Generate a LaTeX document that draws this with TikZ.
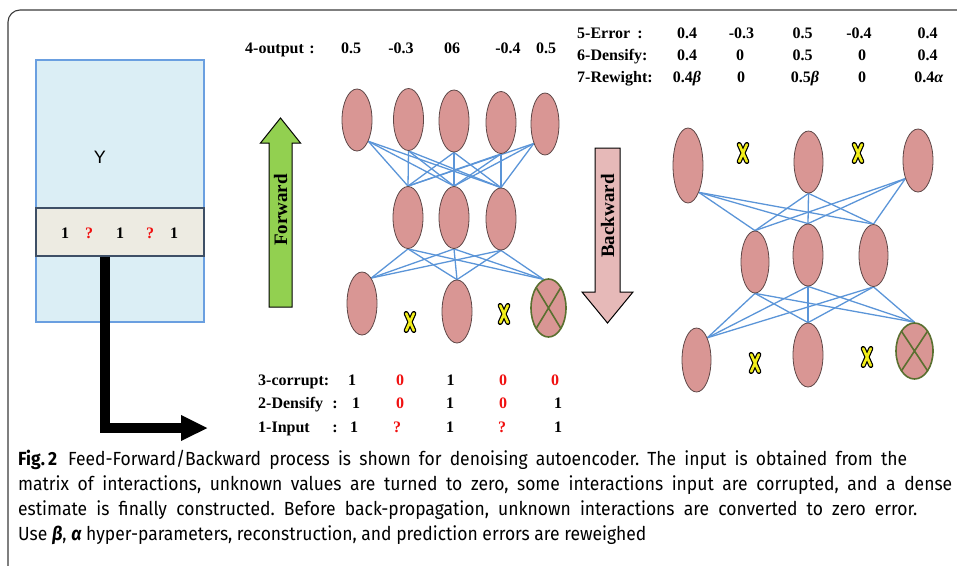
\documentclass[tikz,border=0pt]{standalone}
\usepackage{fontspec}
\setmainfont{Liberation Serif}
\newfontfamily\capfont[FakeStretch=0.92]{Fira Sans}
\newfontfamily\ysans{Liberation Sans}
\usetikzlibrary{shapes.geometric,arrows.meta,backgrounds}
\frenchspacing

\definecolor{nodefill}{HTML}{D99694}
\definecolor{nodeline}{HTML}{5E4747}
\definecolor{wirecol}{HTML}{5B95D8}
\definecolor{crossline}{HTML}{5A7030}
\definecolor{yfill}{HTML}{DBEEF5}
\definecolor{yline}{HTML}{6A9FE0}
\definecolor{bandfill}{HTML}{EDEBE2}
\definecolor{bandline}{HTML}{3E4F66}
\definecolor{fwdfill}{HTML}{92D050}
\definecolor{bwdfill}{HTML}{E6B9B8}
\definecolor{xyellow}{HTML}{F2EE1A}
\definecolor{valred}{HTML}{F01010}
\definecolor{framecol}{HTML}{3A3A3A}

\begin{document}
\begin{tikzpicture}[x=1pt,y=-1pt,
  neuron/.style={ellipse, draw=nodeline, fill=nodefill, line width=0.8pt,
    minimum width=30pt, minimum height=62pt, inner sep=0pt},
  dropped/.style={neuron, draw=crossline, line width=1.6pt,
    path picture={\draw[crossline,line width=1.6pt]
      (path picture bounding box.north west)--(path picture bounding box.south east)
      (path picture bounding box.north east)--(path picture bounding box.south west);}},
  wire/.style={draw=wirecol, line width=1.3pt},
  lbl/.style={font=\bfseries\fontsize{16}{18}\selectfont, inner sep=0pt},
  arrowtext/.style={font=\bfseries\fontsize{19}{21}\selectfont, inner sep=0pt, rotate=90},
  val/.style={lbl, anchor=base},
  lab/.style={lbl, anchor=base west},
  miss/.style={text=valred},
  capline/.style={font=\capfont\fontsize{19}{22}\selectfont, anchor=base west, inner sep=0pt},
  xmark/.pic={
    \draw[black,line width=5pt,line cap=round] (-3.8,-8.5)--(3.8,8.5) (3.8,-8.5)--(-3.8,8.5);
    \draw[xyellow,line width=2.6pt,line cap=round] (-3.8,-8.5)--(3.8,8.5) (3.8,-8.5)--(-3.8,8.5);}
]
\useasboundingbox (0,0) rectangle (957,565);

% outer frame
\draw[framecol, line width=1.1pt, rounded corners=12pt] (8,570) -- (8,10) -- (962,10);

% interaction matrix Y with the selected row
\node[draw=yline, fill=yfill, line width=1.2pt, minimum width=168pt, minimum height=262pt,
  inner sep=0pt] (ybox) at (120,191) {};
\node[font=\ysans\fontsize{18}{20}\selectfont] (ylab) at (100,157) {Y};
\node[draw=bandline, fill=bandfill, line width=1.2pt, minimum width=168pt, minimum height=48pt,
  inner sep=0pt] (band) at (120,232) {};
\foreach \v/\x/\s [count=\i] in {1/65/, ?/89/miss, 1/120/, ?/150/miss, 1/174/}
  \node[val,\s] (row\i) at (\x,238) {\v};

% row fed to the network
\coordinate (turn) at (105,428);
\coordinate (feed) at (208,428);
\draw[line width=10pt, line join=miter, -{Triangle[width=24pt,length=27pt]}]
  (band.south -| turn) -- (turn) -- (feed);

% forward / backward arrows
\draw[fill=fwdfill, draw=black, line width=1pt]
  (269,307) -- (269,143) -- (260.5,143) -- (280.5,118) -- (300.5,143) -- (292,143) -- (292,307) -- cycle;
\node[arrowtext] (fwd) at (280.5,210) {Forward};
\draw[fill=bwdfill, draw=black, line width=1pt]
  (595,148) -- (620,148) -- (620,292) -- (633,292) -- (607.5,323) -- (582,292) -- (595,292) -- cycle;
\node[arrowtext] (bwd) at (607.5,216) {Backward};

% forward network
\node[neuron] (t1) at (357,120) {};
\node[neuron] (t2) at (408.5,119.5) {};
\node[neuron] (t3) at (454,121) {};
\node[neuron] (t4) at (501,122.5) {};
\node[neuron, minimum width=28pt] (t5) at (545,124) {};
\node[neuron] (m1) at (408,217.5) {};
\node[neuron] (m2) at (454,217.5) {};
\node[neuron] (m3) at (501,219) {};
\node[neuron, minimum height=63pt] (b1) at (362,303.5) {};
\node[neuron, minimum height=63pt] (b2) at (457,311.5) {};
\node[dropped, minimum width=35pt, minimum height=58pt] (bx) at (548.5,308) {};
\pic at (410,322) {xmark};
\pic at (504,314) {xmark};

% backward network
\node[neuron, minimum height=75pt] (T1) at (688,165.5) {};
\node[neuron, minimum width=29pt] (T2) at (808.5,162) {};
\node[neuron, minimum height=63pt] (T3) at (918,160.5) {};
\node[neuron, minimum width=28pt] (M1) at (755,262) {};
\node[neuron] (M2) at (808,255) {};
\node[neuron, minimum width=29pt] (M3) at (873.5,255.5) {};
\node[neuron, minimum width=29pt, minimum height=64pt] (B1) at (696.5,360) {};
\node[neuron, minimum height=64pt] (B2) at (808,355) {};
\node[dropped, minimum width=37pt, minimum height=56pt] (BX) at (914.5,351) {};
\pic at (743,153) {xmark};
\pic at (858,153) {xmark};
\pic at (755,363) {xmark};
\pic at (867,357) {xmark};

\begin{pgfonlayer}{background}
  \foreach \a in {t1.-62, t2.south, t3.south, t4.south, t5.-120}
    \foreach \b in {m1, m2, m3}
      \draw[wire] (\a) -- (\b.north);
  \foreach \a in {m1, m2, m3}
    \foreach \b in {b1.70, b2.north, bx.100}
      \draw[wire] (\a.south) -- (\b);
  \foreach \a in {T1.-68, T2.south, T3.-125}
    \foreach \b in {M1, M2, M3}
      \draw[wire] (\a) -- (\b.north);
  \foreach \a in {M1, M2, M3}
    \foreach \b in {B1.64, B2.north, BX.north}
      \draw[wire] (\a.south) -- (\b);
\end{pgfonlayer}

% forward values
\node[lab] (outlab) at (245,53) {4-output};
\node[val] (outcol) at (312,53) {:};
\foreach \v/\x [count=\i] in {0.5/351, -0.3/401, 06/452, -0.4/508, 0.5/546}
  \node[val] (out\i) at (\x,53) {\v};

% backward values
\node[lab] (errlab) at (577,38) {5-Error};
\node[val] (errcol) at (640,38) {:};
\foreach \v/\x [count=\i] in {0.4/687, -0.3/741.5, 0.5/802.5, -0.4/859, 0.4/927.5}
  \node[val] (err\i) at (\x,38) {\v};
\node[lab] (denlab) at (577,60) {6-Densify:};
\foreach \v/\x [count=\i] in {0.4/687, 0/740, 0.5/802.5, 0/862, 0.4/927.5}
  \node[val] (den\i) at (\x,60) {\v};
\node[lab] (rwlab) at (577,82) {7-Rewight:};
\foreach \v/\x [count=\i] in {0.4\textit{β}/687, 0/741, 0.5\textit{β}/805, 0/862, 0.4\textit{α}/929}
  \node[val] (rw\i) at (\x,82) {\v};

% input preparation
\node[lab] (corlab) at (258,385) {3-corrupt:};
\foreach \v/\x/\s [count=\i] in {1/352/, 0/400/miss, 1/450.5/, 0/503/miss, 0/555/miss}
  \node[val,\s] (cor\i) at (\x,385) {\v};
\node[lab] (dnslab) at (258,408) {2-Densify};
\node[val] (dnscol) at (335,408) {:};
\foreach \v/\x/\s [count=\i] in {1/356/, 0/400/miss, 1/450/, 0/503/miss, 1/558/}
  \node[val,\s] (dns\i) at (\x,408) {\v};
\node[lab] (inlab) at (258,432) {1-Input};
\node[val] (incol) at (335,432) {:};
\foreach \v/\x/\s [count=\i] in {1/354/, ?/397/miss, 1/450/, ?/502/miss, 1/558/}
  \node[val,\s] (in\i) at (\x,432) {\v};

% caption, first three lines set to full measure
\node[capline] (cap1) at (18,465) {\makebox[889pt][s]{\textbf{Fig.\,2}\hspace{11pt}Feed-Forward/Backward process is shown for denoising autoencoder. The input is obtained from the}};
\node[capline] (cap2) at (18,490) {\makebox[934pt][s]{matrix of interactions, unknown values are turned to zero, some interactions input are corrupted, and a dense}};
\node[capline] (cap3) at (18,515) {\makebox[899pt][s]{estimate is finally constructed. Before back-propagation, unknown interactions are converted to zero error.}};
\node[capline] (cap4) at (18,540) {Use \textbf{\textit{β}}, \textbf{\textit{α}} hyper-parameters, reconstruction, and prediction errors are reweighed};
\end{tikzpicture}
\end{document}
